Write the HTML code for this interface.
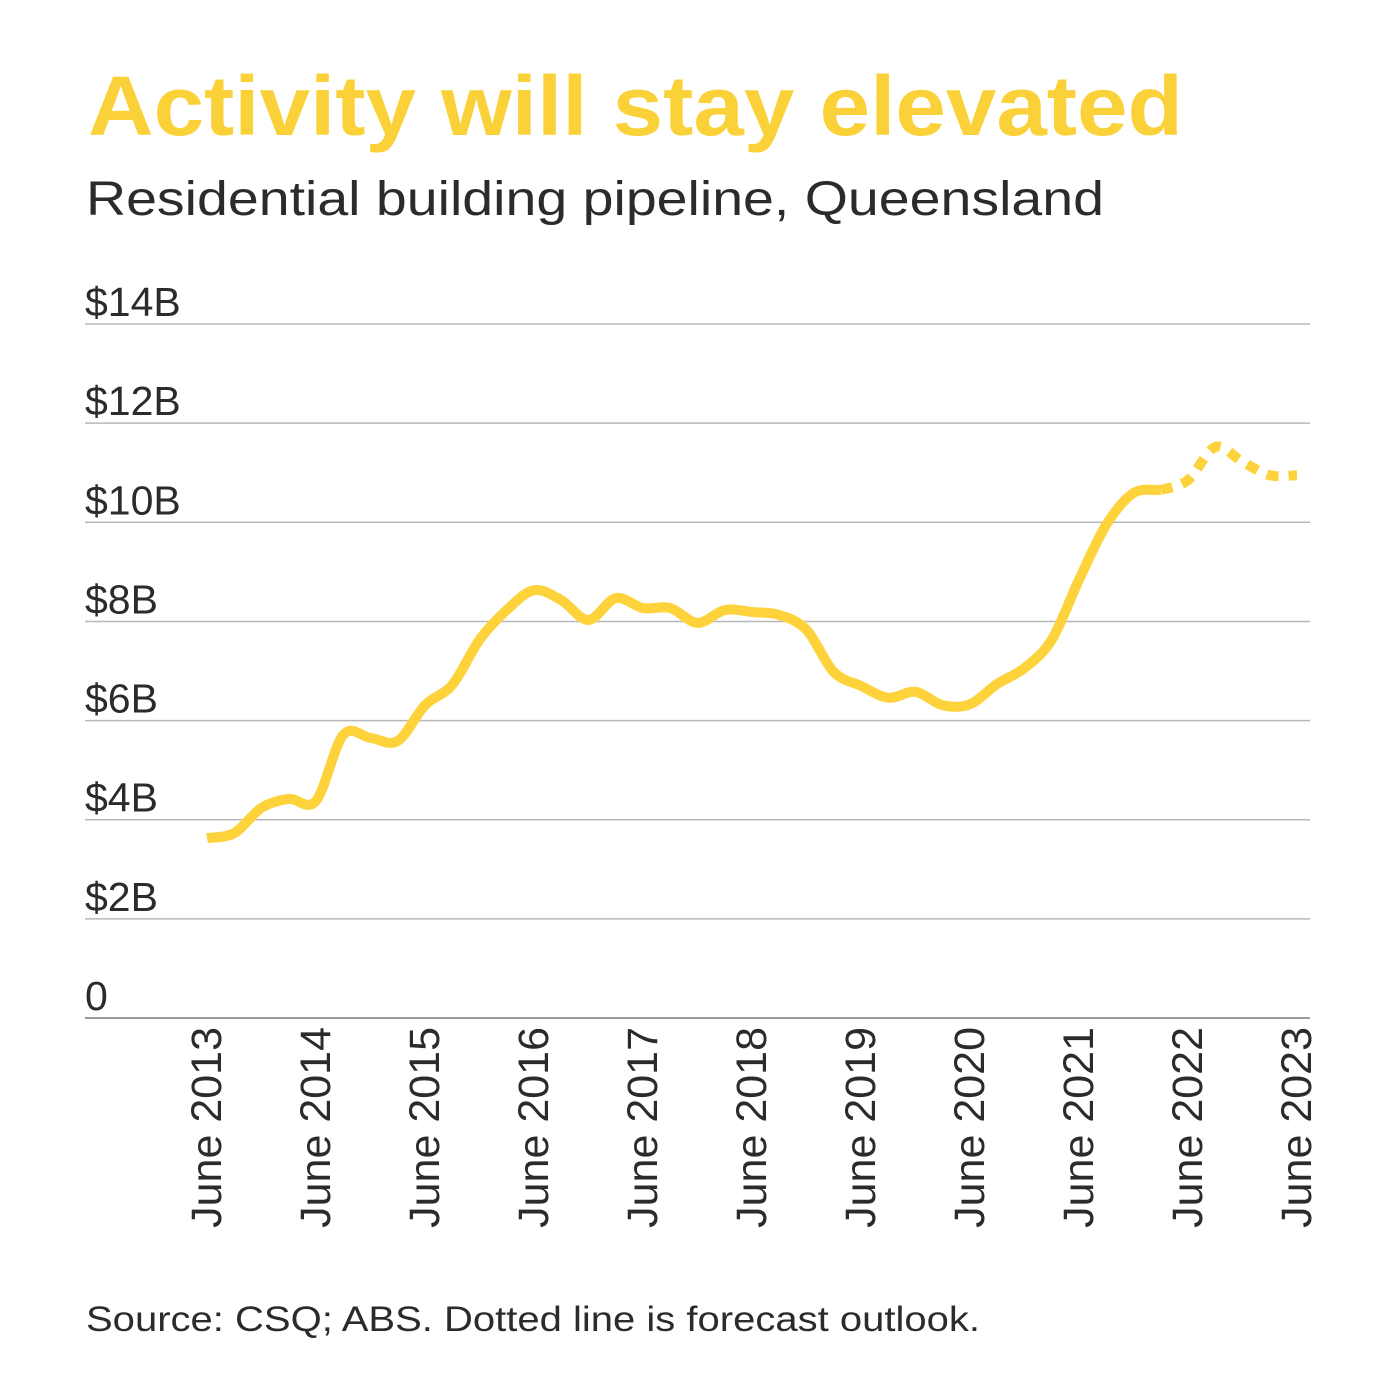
<!DOCTYPE html>
<html><head><meta charset="utf-8"><style>
html,body{margin:0;padding:0;background:#fff;}
svg{display:block;font-family:"Liberation Sans",sans-serif;}
</style></head><body>
<svg id="chart" width="1388" height="1388" viewBox="0 0 1388 1388">
<text x="88" y="135" font-size="84" font-weight="bold" fill="#FBD13A" textLength="1095" lengthAdjust="spacingAndGlyphs">Activity will stay elevated</text>
<text x="86" y="215" font-size="48" fill="#2b2b2b" textLength="1018" lengthAdjust="spacingAndGlyphs">Residential building pipeline, Queensland</text>
<g id="grid"></g>
<g id="ylabels"></g>
<g id="xlabels"></g>
<g id="series"></g>
<text x="86" y="1331" font-size="35" fill="#2b2b2b" textLength="894" lengthAdjust="spacingAndGlyphs">Source: CSQ; ABS. Dotted line is forecast outlook.</text>
</svg>
<script>
const yTicks = [0, 2, 4, 6, 8, 10, 12, 14];
const yTickLabels = ["0", "$2B", "$4B", "$6B", "$8B", "$10B", "$12B", "$14B"];
const xTickYears = [2013, 2014, 2015, 2016, 2017, 2018, 2019, 2020, 2021, 2022, 2023];
const xTickLabels = ["June 2013","June 2014","June 2015","June 2016","June 2017","June 2018","June 2019","June 2020","June 2021","June 2022","June 2023"];
const actualX = [2013,2013.25,2013.5,2013.75,2014,2014.25,2014.5,2014.75,2015,2015.25,2015.5,2015.75,2016,2016.25,2016.5,2016.75,2017,2017.25,2017.5,2017.75,2018,2018.25,2018.5,2018.75,2019,2019.25,2019.5,2019.75,2020,2020.25,2020.5,2020.75,2021,2021.25,2021.5,2021.75];
const actualY = [3.63,3.73,4.24,4.42,4.38,5.71,5.65,5.59,6.31,6.72,7.63,8.23,8.63,8.43,8.03,8.47,8.27,8.27,7.97,8.23,8.19,8.13,7.83,6.98,6.70,6.46,6.58,6.31,6.33,6.74,7.06,7.63,8.84,9.95,10.59,10.65];
const forecastX = [2021.75,2022,2022.25,2022.5,2022.75,2023];
const forecastY = [10.65,10.85,11.52,11.22,10.95,10.95];

const NS = "http://www.w3.org/2000/svg";
const sx = v => 207 + (v - 2013) * 109;
const sy = v => 1018 - v * 49.57;
function mk(tag, attrs, parent){const e=document.createElementNS(NS,tag);for(const k in attrs)e.setAttribute(k,attrs[k]);parent.appendChild(e);return e;}
const grid=document.getElementById('grid'), yl=document.getElementById('ylabels'), xl=document.getElementById('xlabels'), se=document.getElementById('series');
yTicks.forEach((t,i)=>{
  const l=mk('line',{x1:85,x2:1310,y1:sy(t),y2:sy(t),stroke:t===0?'#9a9a9a':'#b8b8b8','stroke-width':t===0?2:1.5},grid);
  
  
  const tx=mk('text',{x:85,y:sy(t)-8,'font-size':41,fill:'#2b2b2b'},yl);
  tx.textContent=yTickLabels[i];
  
  
});
xTickYears.forEach((yr,i)=>{
  const x=sx(yr)+14, y=1027;
  const tx=mk('text',{x:x,y:y,'font-size':43,fill:'#2b2b2b','text-anchor':'end',transform:`rotate(-90 ${x} ${y})`},xl);
  tx.textContent=xTickLabels[i];
  
  
});
function smooth(xs,ys){
  const p=xs.map((x,i)=>[sx(x),sy(ys[i])]);
  let d=`M${p[0][0]},${p[0][1]}`;
  for(let i=0;i<p.length-1;i++){
    const p0=p[i-1]||p[i],p1=p[i],p2=p[i+1],p3=p[i+2]||p[i+1];
    const c1=[p1[0]+(p2[0]-p0[0])/6,p1[1]+(p2[1]-p0[1])/6];
    const c2=[p2[0]-(p3[0]-p1[0])/6,p2[1]-(p3[1]-p1[1])/6];
    d+=` C${c1[0]},${c1[1]} ${c2[0]},${c2[1]} ${p2[0]},${p2[1]}`;
  }
  return d;
}
const a=mk('path',{d:smooth(actualX,actualY),fill:'none',stroke:'#FDD23A','stroke-width':10,'stroke-linejoin':'round'},se);


const f=mk('path',{d:smooth(forecastX,forecastY),fill:'none',stroke:'#FDD23A','stroke-width':10,'stroke-dasharray':'12 10'},se);


</script>
</body></html>
